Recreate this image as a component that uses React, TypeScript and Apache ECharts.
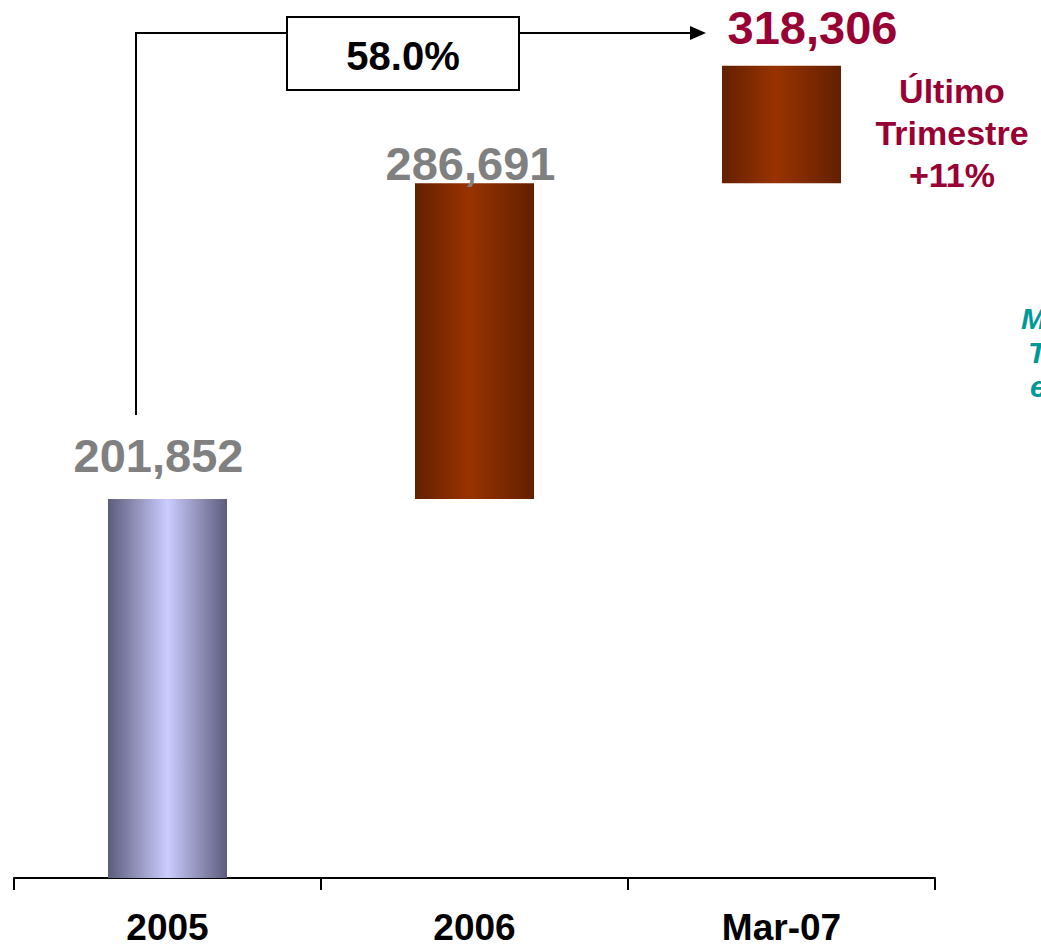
import React, { useEffect, useRef } from "react";
import * as echarts from "echarts";

const categories = ["2005", "2006", "Mar-07"];
const totals = [201852, 286691, 318306];
const growthLabel = "58.0%";
const quarterNote = ["Último", "Trimestre", "+11%"];
const sideNote = ["Mercado", "Total", "en"];

const FONT = "'Liberation Sans', Arial, Helvetica, sans-serif";

const blueGrad = new echarts.graphic.LinearGradient(0, 0, 1, 0, [
  { offset: 0, color: "#5c5c7c" },
  { offset: 0.5, color: "#ccccff" },
  { offset: 1, color: "#5c5c7c" },
]);
const brownGrad = () =>
  new echarts.graphic.LinearGradient(0, 0, 1, 0, [
    { offset: 0, color: "#632000" },
    { offset: 0.45, color: "#993300" },
    { offset: 1, color: "#632000" },
  ]);

export default function App() {
  const ref = useRef<HTMLDivElement>(null);
  useEffect(() => {
    if (!ref.current) return;
    const chart = echarts.init(ref.current, null, { renderer: "svg" });
    const bases = totals.map((_, i) => (i === 0 ? 0 : totals[i - 1]));
    const deltas = totals.map((t, i) => t - bases[i]);
    const labelCfg = [
      { color: "#808080", distance: 20, offset: [-9, 0] },
      { color: "#808080", distance: -4, offset: [-4, 0] },
      { color: "#990033", distance: 15, offset: [31, 0] },
    ];
    chart.setOption({
      animation: false,
      grid: { left: 14, right: 106, top: 22.15, bottom: 72, containLabel: false },
      xAxis: {
        type: "category",
        data: categories,
        axisLine: { show: true, lineStyle: { color: "#000", width: 2 } },
        axisTick: { show: true, length: 12, lineStyle: { color: "#000", width: 2 } },
        axisLabel: {
          show: true,
          color: "#000",
          fontSize: 37,
          lineHeight: 28,
          fontWeight: "bold",
          fontFamily: FONT,
          margin: 35,
        },
      },
      yAxis: {
        type: "value",
        min: 100000,
        max: 330000,
        show: false,
        splitLine: { show: false },
      },
      series: [
        {
          type: "bar",
          stack: "w",
          data: bases,
          barWidth: 119,
          itemStyle: { color: "transparent" },
          silent: true,
        },
        {
          type: "bar",
          stack: "w",
          barWidth: 119,
          clip: true,
          data: deltas.map((d, i) => ({
            value: d,
            itemStyle: { color: i === 0 ? blueGrad : brownGrad() },
            label: {
              show: true,
              position: "top",
              distance: labelCfg[i].distance,
              offset: labelCfg[i].offset,
              color: labelCfg[i].color,
              fontSize: 47,
              fontWeight: "bold",
              fontFamily: FONT,
              formatter: () => totals[i].toLocaleString("en-US"),
            },
          })),
        },
      ],
      graphic: [
        {
          type: "polyline",
          shape: { points: [[136, 415], [136, 33], [287, 33]] },
          style: { stroke: "#000", lineWidth: 2, fill: null },
        },
        {
          type: "rect",
          shape: { x: 287, y: 17, width: 232, height: 73 },
          style: { stroke: "#000", lineWidth: 2, fill: "#fff" },
        },
        {
          type: "text",
          x: 403,
          y: 56,
          style: {
            text: growthLabel,
            fontSize: 40,
            fontWeight: "bold",
            fontFamily: FONT,
            fill: "#000",
            align: "center",
            verticalAlign: "middle",
          },
        },
        {
          type: "line",
          shape: { x1: 519, y1: 33, x2: 692, y2: 33 },
          style: { stroke: "#000", lineWidth: 2 },
        },
        {
          type: "polygon",
          shape: { points: [[690, 26], [706, 33], [690, 40]] },
          style: { fill: "#000" },
        },
        {
          type: "text",
          x: 952,
          y: 133,
          style: {
            text: quarterNote.join("\n"),
            fontSize: 34,
            lineHeight: 42,
            fontWeight: "bold",
            fontFamily: FONT,
            fill: "#990033",
            align: "center",
            verticalAlign: "middle",
          },
        },
        ...sideNote.map((t, i) => ({
          type: "text",
          x: [1021, 1028, 1030][i],
          y: 318 + i * 34,
          style: {
            text: t,
            fontSize: 30,
            fontWeight: "bold",
            fontStyle: "italic",
            fontFamily: FONT,
            fill: "#009999",
            align: "left",
            verticalAlign: "middle",
          },
        })),
      ],
    });
    return () => chart.dispose();
  }, []);
  return (
    <div
      ref={ref}
      style={{ position: "absolute", left: 0, top: 0, width: 1041, height: 950, background: "#fff" }}
    />
  );
}
